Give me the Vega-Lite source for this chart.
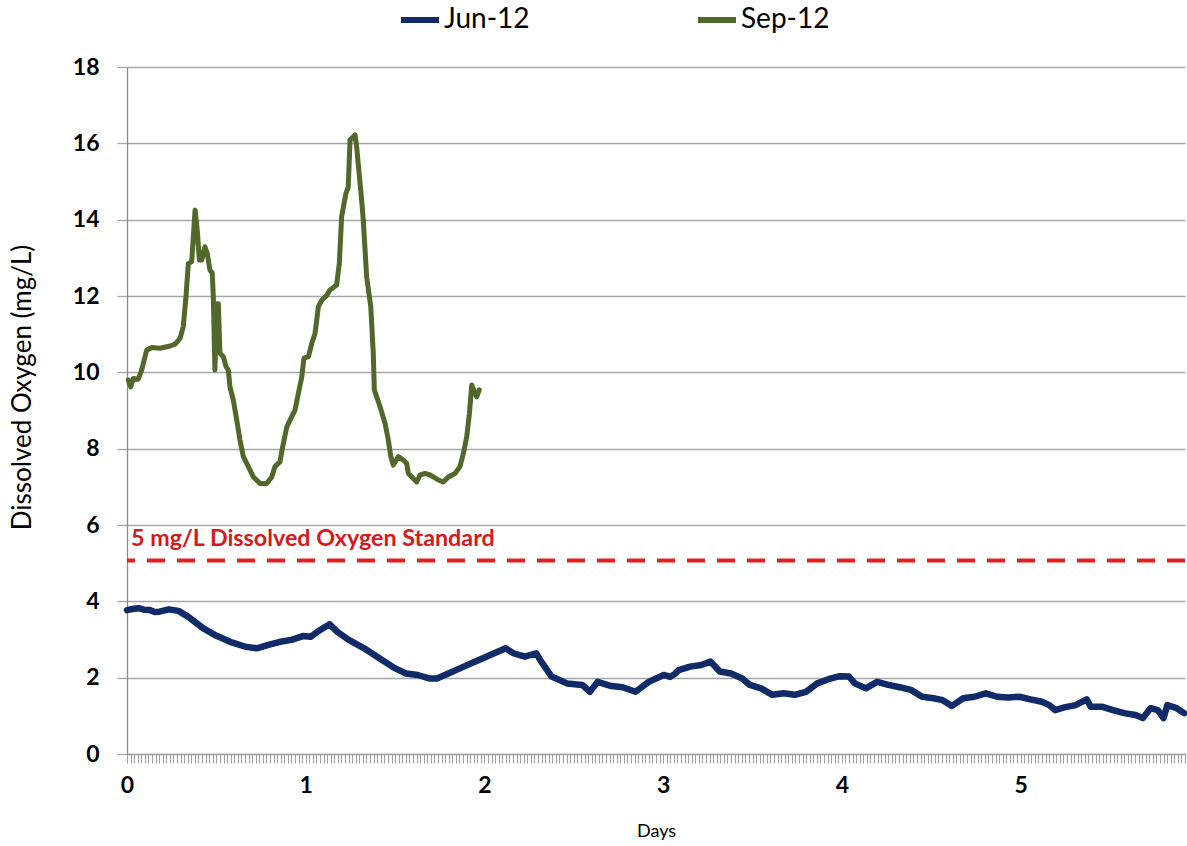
{
  "$schema": "https://vega.github.io/schema/vega-lite/v6.json",
  "autosize": {"type": "none"},
  "width": 1058,
  "height": 687,
  "padding": {"left": 127, "top": 67, "right": 2, "bottom": 92},
  "background": "white",
  "config": {"view": {"stroke": null}, "font": "Lato"},
  "datasets": {
    "oxygen": [
      {"series": "Jun-12", "day": 0.000, "do": 3.77},
      {"series": "Jun-12", "day": 0.030, "do": 3.80},
      {"series": "Jun-12", "day": 0.063, "do": 3.82},
      {"series": "Jun-12", "day": 0.095, "do": 3.78},
      {"series": "Jun-12", "day": 0.128, "do": 3.77},
      {"series": "Jun-12", "day": 0.155, "do": 3.72},
      {"series": "Jun-12", "day": 0.181, "do": 3.73},
      {"series": "Jun-12", "day": 0.234, "do": 3.79},
      {"series": "Jun-12", "day": 0.288, "do": 3.75},
      {"series": "Jun-12", "day": 0.341, "do": 3.60},
      {"series": "Jun-12", "day": 0.427, "do": 3.29},
      {"series": "Jun-12", "day": 0.491, "do": 3.12},
      {"series": "Jun-12", "day": 0.577, "do": 2.94},
      {"series": "Jun-12", "day": 0.663, "do": 2.81},
      {"series": "Jun-12", "day": 0.727, "do": 2.77},
      {"series": "Jun-12", "day": 0.791, "do": 2.86},
      {"series": "Jun-12", "day": 0.856, "do": 2.94},
      {"series": "Jun-12", "day": 0.920, "do": 2.99},
      {"series": "Jun-12", "day": 0.984, "do": 3.09},
      {"series": "Jun-12", "day": 1.027, "do": 3.07},
      {"series": "Jun-12", "day": 1.081, "do": 3.25},
      {"series": "Jun-12", "day": 1.134, "do": 3.40},
      {"series": "Jun-12", "day": 1.177, "do": 3.20},
      {"series": "Jun-12", "day": 1.241, "do": 2.99},
      {"series": "Jun-12", "day": 1.327, "do": 2.77},
      {"series": "Jun-12", "day": 1.412, "do": 2.51},
      {"series": "Jun-12", "day": 1.498, "do": 2.25},
      {"series": "Jun-12", "day": 1.562, "do": 2.11},
      {"series": "Jun-12", "day": 1.626, "do": 2.07},
      {"series": "Jun-12", "day": 1.691, "do": 1.98},
      {"series": "Jun-12", "day": 1.734, "do": 1.98},
      {"series": "Jun-12", "day": 1.798, "do": 2.11},
      {"series": "Jun-12", "day": 1.884, "do": 2.29},
      {"series": "Jun-12", "day": 1.969, "do": 2.46},
      {"series": "Jun-12", "day": 2.055, "do": 2.64},
      {"series": "Jun-12", "day": 2.119, "do": 2.77},
      {"series": "Jun-12", "day": 2.162, "do": 2.64},
      {"series": "Jun-12", "day": 2.226, "do": 2.55},
      {"series": "Jun-12", "day": 2.290, "do": 2.64},
      {"series": "Jun-12", "day": 2.312, "do": 2.46},
      {"series": "Jun-12", "day": 2.376, "do": 2.03},
      {"series": "Jun-12", "day": 2.462, "do": 1.85},
      {"series": "Jun-12", "day": 2.547, "do": 1.81},
      {"series": "Jun-12", "day": 2.590, "do": 1.63},
      {"series": "Jun-12", "day": 2.633, "do": 1.89},
      {"series": "Jun-12", "day": 2.710, "do": 1.78},
      {"series": "Jun-12", "day": 2.773, "do": 1.75},
      {"series": "Jun-12", "day": 2.846, "do": 1.63},
      {"series": "Jun-12", "day": 2.919, "do": 1.89},
      {"series": "Jun-12", "day": 3.003, "do": 2.07},
      {"series": "Jun-12", "day": 3.040, "do": 2.02},
      {"series": "Jun-12", "day": 3.066, "do": 2.10},
      {"series": "Jun-12", "day": 3.087, "do": 2.20},
      {"series": "Jun-12", "day": 3.150, "do": 2.29},
      {"series": "Jun-12", "day": 3.213, "do": 2.33},
      {"series": "Jun-12", "day": 3.265, "do": 2.42},
      {"series": "Jun-12", "day": 3.317, "do": 2.16},
      {"series": "Jun-12", "day": 3.380, "do": 2.11},
      {"series": "Jun-12", "day": 3.443, "do": 1.98},
      {"series": "Jun-12", "day": 3.485, "do": 1.81},
      {"series": "Jun-12", "day": 3.548, "do": 1.72},
      {"series": "Jun-12", "day": 3.611, "do": 1.55},
      {"series": "Jun-12", "day": 3.674, "do": 1.59},
      {"series": "Jun-12", "day": 3.736, "do": 1.55},
      {"series": "Jun-12", "day": 3.799, "do": 1.63},
      {"series": "Jun-12", "day": 3.862, "do": 1.85},
      {"series": "Jun-12", "day": 3.925, "do": 1.96},
      {"series": "Jun-12", "day": 3.988, "do": 2.04},
      {"series": "Jun-12", "day": 4.040, "do": 2.03},
      {"series": "Jun-12", "day": 4.072, "do": 1.85},
      {"series": "Jun-12", "day": 4.134, "do": 1.72},
      {"series": "Jun-12", "day": 4.197, "do": 1.89},
      {"series": "Jun-12", "day": 4.260, "do": 1.81},
      {"series": "Jun-12", "day": 4.323, "do": 1.75},
      {"series": "Jun-12", "day": 4.386, "do": 1.68},
      {"series": "Jun-12", "day": 4.449, "do": 1.50},
      {"series": "Jun-12", "day": 4.512, "do": 1.46},
      {"series": "Jun-12", "day": 4.564, "do": 1.41},
      {"series": "Jun-12", "day": 4.616, "do": 1.26},
      {"series": "Jun-12", "day": 4.679, "do": 1.46},
      {"series": "Jun-12", "day": 4.742, "do": 1.50},
      {"series": "Jun-12", "day": 4.805, "do": 1.59},
      {"series": "Jun-12", "day": 4.868, "do": 1.50},
      {"series": "Jun-12", "day": 4.931, "do": 1.48},
      {"series": "Jun-12", "day": 4.993, "do": 1.50},
      {"series": "Jun-12", "day": 5.056, "do": 1.43},
      {"series": "Jun-12", "day": 5.119, "do": 1.37},
      {"series": "Jun-12", "day": 5.161, "do": 1.28},
      {"series": "Jun-12", "day": 5.193, "do": 1.15},
      {"series": "Jun-12", "day": 5.245, "do": 1.22},
      {"series": "Jun-12", "day": 5.308, "do": 1.28},
      {"series": "Jun-12", "day": 5.370, "do": 1.43},
      {"series": "Jun-12", "day": 5.392, "do": 1.24},
      {"series": "Jun-12", "day": 5.454, "do": 1.24},
      {"series": "Jun-12", "day": 5.517, "do": 1.15},
      {"series": "Jun-12", "day": 5.580, "do": 1.07},
      {"series": "Jun-12", "day": 5.643, "do": 1.02},
      {"series": "Jun-12", "day": 5.684, "do": 0.94},
      {"series": "Jun-12", "day": 5.727, "do": 1.20},
      {"series": "Jun-12", "day": 5.768, "do": 1.15},
      {"series": "Jun-12", "day": 5.800, "do": 0.94},
      {"series": "Jun-12", "day": 5.821, "do": 1.28},
      {"series": "Jun-12", "day": 5.873, "do": 1.20},
      {"series": "Jun-12", "day": 5.915, "do": 1.07},
      {"series": "Sep-12", "day": 0.007, "do": 9.80},
      {"series": "Sep-12", "day": 0.021, "do": 9.62},
      {"series": "Sep-12", "day": 0.035, "do": 9.84},
      {"series": "Sep-12", "day": 0.063, "do": 9.82},
      {"series": "Sep-12", "day": 0.082, "do": 10.06},
      {"series": "Sep-12", "day": 0.110, "do": 10.58},
      {"series": "Sep-12", "day": 0.138, "do": 10.65},
      {"series": "Sep-12", "day": 0.185, "do": 10.63},
      {"series": "Sep-12", "day": 0.241, "do": 10.69},
      {"series": "Sep-12", "day": 0.269, "do": 10.74},
      {"series": "Sep-12", "day": 0.297, "do": 10.89},
      {"series": "Sep-12", "day": 0.315, "do": 11.20},
      {"series": "Sep-12", "day": 0.330, "do": 11.98},
      {"series": "Sep-12", "day": 0.343, "do": 12.85},
      {"series": "Sep-12", "day": 0.362, "do": 12.90},
      {"series": "Sep-12", "day": 0.381, "do": 14.25},
      {"series": "Sep-12", "day": 0.393, "do": 13.73},
      {"series": "Sep-12", "day": 0.405, "do": 12.94},
      {"series": "Sep-12", "day": 0.418, "do": 12.94},
      {"series": "Sep-12", "day": 0.436, "do": 13.29},
      {"series": "Sep-12", "day": 0.449, "do": 13.12},
      {"series": "Sep-12", "day": 0.464, "do": 12.68},
      {"series": "Sep-12", "day": 0.477, "do": 12.60},
      {"series": "Sep-12", "day": 0.483, "do": 11.98},
      {"series": "Sep-12", "day": 0.492, "do": 10.06},
      {"series": "Sep-12", "day": 0.502, "do": 11.80},
      {"series": "Sep-12", "day": 0.511, "do": 11.80},
      {"series": "Sep-12", "day": 0.520, "do": 10.50},
      {"series": "Sep-12", "day": 0.539, "do": 10.41},
      {"series": "Sep-12", "day": 0.554, "do": 10.15},
      {"series": "Sep-12", "day": 0.567, "do": 10.06},
      {"series": "Sep-12", "day": 0.576, "do": 9.62},
      {"series": "Sep-12", "day": 0.595, "do": 9.27},
      {"series": "Sep-12", "day": 0.614, "do": 8.75},
      {"series": "Sep-12", "day": 0.632, "do": 8.23},
      {"series": "Sep-12", "day": 0.651, "do": 7.79},
      {"series": "Sep-12", "day": 0.679, "do": 7.53},
      {"series": "Sep-12", "day": 0.707, "do": 7.26},
      {"series": "Sep-12", "day": 0.744, "do": 7.09},
      {"series": "Sep-12", "day": 0.782, "do": 7.09},
      {"series": "Sep-12", "day": 0.810, "do": 7.26},
      {"series": "Sep-12", "day": 0.828, "do": 7.53},
      {"series": "Sep-12", "day": 0.856, "do": 7.66},
      {"series": "Sep-12", "day": 0.871, "do": 8.05},
      {"series": "Sep-12", "day": 0.894, "do": 8.57},
      {"series": "Sep-12", "day": 0.922, "do": 8.84},
      {"series": "Sep-12", "day": 0.940, "do": 9.01},
      {"series": "Sep-12", "day": 0.959, "do": 9.45},
      {"series": "Sep-12", "day": 0.978, "do": 9.88},
      {"series": "Sep-12", "day": 0.990, "do": 10.37},
      {"series": "Sep-12", "day": 1.015, "do": 10.41},
      {"series": "Sep-12", "day": 1.034, "do": 10.76},
      {"series": "Sep-12", "day": 1.052, "do": 11.02},
      {"series": "Sep-12", "day": 1.071, "do": 11.72},
      {"series": "Sep-12", "day": 1.090, "do": 11.89},
      {"series": "Sep-12", "day": 1.118, "do": 12.02},
      {"series": "Sep-12", "day": 1.136, "do": 12.16},
      {"series": "Sep-12", "day": 1.173, "do": 12.29},
      {"series": "Sep-12", "day": 1.188, "do": 12.85},
      {"series": "Sep-12", "day": 1.201, "do": 14.08},
      {"series": "Sep-12", "day": 1.225, "do": 14.69},
      {"series": "Sep-12", "day": 1.238, "do": 14.86},
      {"series": "Sep-12", "day": 1.248, "do": 16.09},
      {"series": "Sep-12", "day": 1.266, "do": 16.17},
      {"series": "Sep-12", "day": 1.276, "do": 16.22},
      {"series": "Sep-12", "day": 1.285, "do": 15.91},
      {"series": "Sep-12", "day": 1.313, "do": 14.51},
      {"series": "Sep-12", "day": 1.322, "do": 13.99},
      {"series": "Sep-12", "day": 1.341, "do": 12.50},
      {"series": "Sep-12", "day": 1.364, "do": 11.72},
      {"series": "Sep-12", "day": 1.378, "do": 10.50},
      {"series": "Sep-12", "day": 1.384, "do": 9.54},
      {"series": "Sep-12", "day": 1.416, "do": 9.10},
      {"series": "Sep-12", "day": 1.444, "do": 8.66},
      {"series": "Sep-12", "day": 1.462, "do": 8.23},
      {"series": "Sep-12", "day": 1.476, "do": 7.79},
      {"series": "Sep-12", "day": 1.490, "do": 7.57},
      {"series": "Sep-12", "day": 1.518, "do": 7.79},
      {"series": "Sep-12", "day": 1.546, "do": 7.70},
      {"series": "Sep-12", "day": 1.565, "do": 7.61},
      {"series": "Sep-12", "day": 1.574, "do": 7.35},
      {"series": "Sep-12", "day": 1.602, "do": 7.22},
      {"series": "Sep-12", "day": 1.621, "do": 7.13},
      {"series": "Sep-12", "day": 1.640, "do": 7.31},
      {"series": "Sep-12", "day": 1.668, "do": 7.35},
      {"series": "Sep-12", "day": 1.696, "do": 7.31},
      {"series": "Sep-12", "day": 1.714, "do": 7.26},
      {"series": "Sep-12", "day": 1.742, "do": 7.18},
      {"series": "Sep-12", "day": 1.770, "do": 7.13},
      {"series": "Sep-12", "day": 1.798, "do": 7.26},
      {"series": "Sep-12", "day": 1.835, "do": 7.35},
      {"series": "Sep-12", "day": 1.863, "do": 7.53},
      {"series": "Sep-12", "day": 1.882, "do": 7.87},
      {"series": "Sep-12", "day": 1.901, "do": 8.31},
      {"series": "Sep-12", "day": 1.916, "do": 8.92},
      {"series": "Sep-12", "day": 1.929, "do": 9.67},
      {"series": "Sep-12", "day": 1.947, "do": 9.45},
      {"series": "Sep-12", "day": 1.957, "do": 9.36},
      {"series": "Sep-12", "day": 1.971, "do": 9.54}
    ],
    "standard": [
      {"day": 0, "level": 5.07, "label": "5 mg/L Dissolved Oxygen Standard"}
    ]
  },
  "resolve": {"axis": {"x": "independent"}},
  "layer": [
    {
      "data": {"name": "oxygen"},
      "transform": [{"filter": "datum.series === 'Jun-12'"}],
      "mark": {"type": "line", "strokeWidth": 6.5, "strokeCap": "round", "strokeJoin": "round"},
      "encoding": {
        "x": {
          "field": "day", "type": "quantitative",
          "scale": {"domain": [0, 5.92], "nice": false, "zero": false},
          "axis": {
            "values": [0, 1, 2, 3, 4, 5],
            "orient": "bottom",
            "title": "Days",
            "titleFont": "Lato", "titleFontSize": 18, "titleFontWeight": "normal", "titleColor": "#000000",
            "titleY": 77, "titleBaseline": "middle",
            "labelFont": "Lato", "labelFontSize": 23, "labelFontWeight": "bold", "labelColor": "#000000",
            "labelBaseline": "middle", "labelPadding": 31, "labelFlush": false,
            "ticks": false, "grid": false,
            "domain": true, "domainColor": "#a6a6a6", "domainWidth": 1.3
          }
        },
        "y": {
          "field": "do", "type": "quantitative",
          "scale": {"domain": [0, 18], "nice": false},
          "axis": {
            "values": [0, 2, 4, 6, 8, 10, 12, 14, 16, 18],
            "title": "Dissolved Oxygen (mg/L)",
            "titleFont": "Lato", "titleFontSize": 26, "titleFontWeight": "normal", "titleColor": "#000000",
            "titleAngle": 270, "titleX": -105, "titleY": 320, "titleAlign": "center", "titleBaseline": "middle",
            "labelFont": "Lato", "labelFontSize": 23, "labelFontWeight": "bold", "labelColor": "#000000",
            "labelPadding": 18, "labelFlush": false,
            "ticks": true, "tickSize": 10, "tickColor": "#a6a6a6", "tickWidth": 1.3,
            "grid": true, "gridColor": "#a6a6a6", "gridWidth": 1.3,
            "domain": true, "domainColor": "#8c8c8c", "domainWidth": 1.3
          }
        },
        "color": {
          "field": "series", "type": "nominal",
          "scale": {"domain": ["Jun-12", "Sep-12"], "range": ["#102B67", "#52672A"]},
          "legend": {
            "title": null, "orient": "none", "direction": "horizontal",
            "legendX": 271, "legendY": -69,
            "symbolType": "stroke", "symbolSize": 1444, "symbolStrokeWidth": 6,
            "labelFont": "Lato", "labelFontSize": 28, "labelColor": "#000000",
            "labelOffset": 2, "columnPadding": 156
          }
        }
      }
    },
    {
      "data": {"name": "oxygen"},
      "transform": [{"filter": "datum.series === 'Sep-12'"}],
      "mark": {"type": "line", "strokeWidth": 5, "strokeCap": "round", "strokeJoin": "round"},
      "encoding": {
        "x": {"field": "day", "type": "quantitative", "axis": null},
        "y": {"field": "do", "type": "quantitative"},
        "color": {"field": "series", "type": "nominal"}
      }
    },
    {
      "data": {"name": "standard"},
      "mark": {"type": "rule", "color": "#E3201F", "strokeWidth": 4, "strokeDash": [18, 12]},
      "encoding": {
        "y": {"field": "level", "type": "quantitative"}
      }
    },
    {
      "data": {"name": "standard"},
      "mark": {"type": "text", "align": "left", "baseline": "alphabetic", "dx": 4, "dy": -14,
               "font": "Lato", "fontSize": 23.3, "fontWeight": "bold", "color": "#D7191C"},
      "encoding": {
        "x": {
          "field": "day", "type": "quantitative",
          "scale": {"domain": [0, 5.92], "nice": false, "zero": false},
          "axis": {
            "orient": "bottom",
            "tickCount": 300, "labels": false, "title": null, "grid": false, "domain": false,
            "ticks": true, "tickSize": 9, "tickColor": "#a0a0a0", "tickWidth": 1
          }
        },
        "y": {"field": "level", "type": "quantitative"},
        "text": {"field": "label", "type": "nominal"}
      }
    }
  ]
}
